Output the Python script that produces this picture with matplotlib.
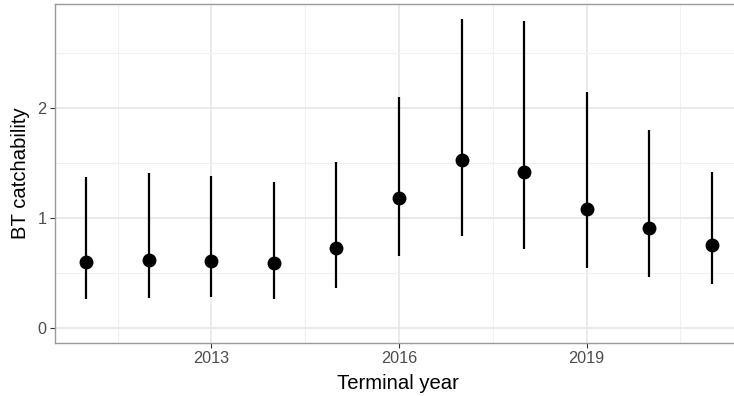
import matplotlib
matplotlib.use("Agg")
import matplotlib.pyplot as plt
from matplotlib.ticker import FixedLocator

plt.rcParams['font.family'] = ['Liberation Sans', 'DejaVu Sans']

# Terminal-year estimates of BT catchability with interval bounds
years = [2011, 2012, 2013, 2014, 2015, 2016, 2017, 2018, 2019, 2020, 2021]
estimate = [0.60, 0.62, 0.61, 0.59, 0.73, 1.18, 1.53, 1.42, 1.08, 0.905, 0.753]
lower = [0.263, 0.272, 0.279, 0.263, 0.36, 0.656, 0.832, 0.717, 0.542, 0.457, 0.399]
upper = [1.377, 1.413, 1.382, 1.328, 1.513, 2.103, 2.81, 2.798, 2.148, 1.805, 1.422]

x_ticks = [2013, 2016, 2019]
y_ticks = [0, 1, 2]

W, H = 734, 396
fig = plt.figure(figsize=(W / 100, H / 100), dpi=100)
left, right, top, bottom = 55, 743, 4.3, 343
ax = fig.add_axes([left / W, (H - bottom) / H, (right - left) / W, (bottom - top) / H])

ax.set_facecolor('white')
ax.set_xlim(2010.5, 2021.5)
ax.set_ylim(-0.14, 2.947)

# grid: major and minor lines
ax.xaxis.set_major_locator(FixedLocator(x_ticks))
ax.yaxis.set_major_locator(FixedLocator(y_ticks))
ax.xaxis.set_minor_locator(FixedLocator([2011.5, 2014.5, 2017.5, 2020.5]))
ax.yaxis.set_minor_locator(FixedLocator([0.5, 1.5, 2.5]))
ax.grid(which='major', color='#e8e8e8', linewidth=1.3, zorder=0)
ax.grid(which='minor', color='#f0f0f0', linewidth=0.8, zorder=0)
ax.set_axisbelow(True)

ax.vlines(years, lower, upper, colors='black', linewidth=1.6, zorder=3)
ax.plot(years, estimate, 'o', color='black', markersize=9, zorder=4)

for s in ax.spines.values():
    s.set_color('#9a9a9a')
    s.set_linewidth(1.0)

ax.tick_params(which='major', length=3.5, width=0.8, color='#333333',
               labelcolor='#4d4d4d', labelsize=11.7, pad=2.5)
ax.tick_params(which='minor', length=0)
ax.set_xticklabels([str(t) for t in x_ticks])
ax.set_yticklabels([str(t) for t in y_ticks])

ax.set_xlabel('Terminal year', fontsize=14.6, color='black')
ax.set_ylabel('BT catchability', fontsize=14.6, color='black')
# keep the x title centred on the visible part of the panel
ax.xaxis.set_label_coords((398 - left) / (right - left), -0.091)
ax.yaxis.set_label_coords(-(left - 30) / (right - left), 0.5)

fig.savefig('out.png', dpi=100)
